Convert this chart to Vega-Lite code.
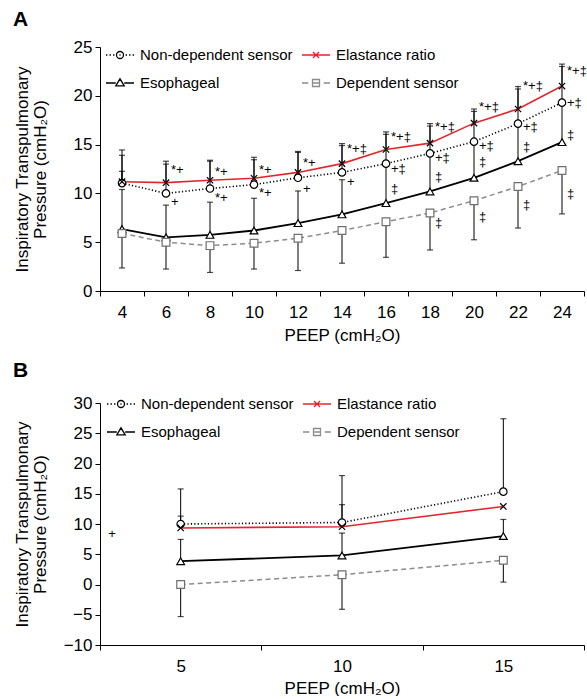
{
  "$schema": "https://vega.github.io/schema/vega-lite/v6.json",
  "padding": {"left": 13, "top": 9, "right": 0, "bottom": 0},
  "spacing": 17,
  "config": {
    "font": "Liberation Sans",
    "view": {"stroke": null},
    "axis": {"domainColor": "black", "tickColor": "black", "labelColor": "black", "titleColor": "black", "labelFontSize": 17, "titleFontSize": 17, "titleFontWeight": "normal", "grid": false, "tickSize": 5, "domainWidth": 1, "tickWidth": 1, "labelOverlap": false, "labelSeparation": 0, "labelBound": false},
    "title": {"anchor": "start", "frame": "bounds", "fontSize": 21, "fontWeight": "bold", "color": "black", "offset": 8}
  },
  "datasets": {
    "a": [
      {"peep": 4, "series": "Non-dependent sensor", "value": 11.05},
      {"peep": 6, "series": "Non-dependent sensor", "value": 10.0},
      {"peep": 8, "series": "Non-dependent sensor", "value": 10.5},
      {"peep": 10, "series": "Non-dependent sensor", "value": 10.9},
      {"peep": 12, "series": "Non-dependent sensor", "value": 11.6},
      {"peep": 14, "series": "Non-dependent sensor", "value": 12.15},
      {"peep": 16, "series": "Non-dependent sensor", "value": 13.05},
      {"peep": 18, "series": "Non-dependent sensor", "value": 14.1},
      {"peep": 20, "series": "Non-dependent sensor", "value": 15.3},
      {"peep": 22, "series": "Non-dependent sensor", "value": 17.15},
      {"peep": 24, "series": "Non-dependent sensor", "value": 19.3},
      {"peep": 4, "series": "Elastance ratio", "value": 11.2},
      {"peep": 6, "series": "Elastance ratio", "value": 11.1},
      {"peep": 8, "series": "Elastance ratio", "value": 11.35},
      {"peep": 10, "series": "Elastance ratio", "value": 11.55},
      {"peep": 12, "series": "Elastance ratio", "value": 12.15},
      {"peep": 14, "series": "Elastance ratio", "value": 13.05},
      {"peep": 16, "series": "Elastance ratio", "value": 14.5},
      {"peep": 18, "series": "Elastance ratio", "value": 15.15},
      {"peep": 20, "series": "Elastance ratio", "value": 17.2},
      {"peep": 22, "series": "Elastance ratio", "value": 18.65},
      {"peep": 24, "series": "Elastance ratio", "value": 21.0},
      {"peep": 4, "series": "Esophageal", "value": 6.35},
      {"peep": 6, "series": "Esophageal", "value": 5.5},
      {"peep": 8, "series": "Esophageal", "value": 5.75},
      {"peep": 10, "series": "Esophageal", "value": 6.2},
      {"peep": 12, "series": "Esophageal", "value": 6.95},
      {"peep": 14, "series": "Esophageal", "value": 7.85},
      {"peep": 16, "series": "Esophageal", "value": 9.0},
      {"peep": 18, "series": "Esophageal", "value": 10.2},
      {"peep": 20, "series": "Esophageal", "value": 11.6},
      {"peep": 22, "series": "Esophageal", "value": 13.3},
      {"peep": 24, "series": "Esophageal", "value": 15.25},
      {"peep": 4, "series": "Dependent sensor", "value": 5.9},
      {"peep": 6, "series": "Dependent sensor", "value": 5.0},
      {"peep": 8, "series": "Dependent sensor", "value": 4.65},
      {"peep": 10, "series": "Dependent sensor", "value": 4.9},
      {"peep": 12, "series": "Dependent sensor", "value": 5.4},
      {"peep": 14, "series": "Dependent sensor", "value": 6.2},
      {"peep": 16, "series": "Dependent sensor", "value": 7.1},
      {"peep": 18, "series": "Dependent sensor", "value": 8.0},
      {"peep": 20, "series": "Dependent sensor", "value": 9.25},
      {"peep": 22, "series": "Dependent sensor", "value": 10.7},
      {"peep": 24, "series": "Dependent sensor", "value": 12.35}
    ],
    "aerr": [
      {"peep": 4, "from": 11.2, "to": 14.45}, {"peep": 4, "from": 11.05, "to": 13.9}, {"peep": 4, "from": 11.2, "to": 12.26}, {"peep": 4, "from": 6.35, "to": 10.4}, {"peep": 4, "from": 5.9, "to": 2.36},
      {"peep": 6, "from": 11.1, "to": 13.3}, {"peep": 6, "from": 10.0, "to": 13.0}, {"peep": 6, "from": 5.5, "to": 8.8}, {"peep": 6, "from": 5.0, "to": 2.25},
      {"peep": 8, "from": 11.35, "to": 13.4}, {"peep": 8, "from": 10.5, "to": 13.3}, {"peep": 8, "from": 5.75, "to": 9.1}, {"peep": 8, "from": 4.65, "to": 1.9},
      {"peep": 10, "from": 11.55, "to": 13.7}, {"peep": 10, "from": 10.9, "to": 13.45}, {"peep": 10, "from": 6.2, "to": 9.5}, {"peep": 10, "from": 4.9, "to": 2.25},
      {"peep": 12, "from": 12.15, "to": 14.3}, {"peep": 12, "from": 11.6, "to": 14.2}, {"peep": 12, "from": 6.95, "to": 10.25}, {"peep": 12, "from": 5.4, "to": 2.1},
      {"peep": 14, "from": 13.05, "to": 15.1}, {"peep": 14, "from": 12.15, "to": 14.9}, {"peep": 14, "from": 7.85, "to": 11.4}, {"peep": 14, "from": 6.2, "to": 2.85},
      {"peep": 16, "from": 14.5, "to": 16.3}, {"peep": 16, "from": 13.05, "to": 16.05}, {"peep": 16, "from": 9.0, "to": 13.0}, {"peep": 16, "from": 7.1, "to": 3.45},
      {"peep": 18, "from": 15.15, "to": 17.15}, {"peep": 18, "from": 14.1, "to": 16.9}, {"peep": 18, "from": 10.2, "to": 14.0}, {"peep": 18, "from": 8.0, "to": 4.2},
      {"peep": 20, "from": 17.2, "to": 18.65}, {"peep": 20, "from": 15.3, "to": 18.4}, {"peep": 20, "from": 11.6, "to": 15.3}, {"peep": 20, "from": 9.25, "to": 5.25},
      {"peep": 22, "from": 18.65, "to": 20.95}, {"peep": 22, "from": 17.15, "to": 20.7}, {"peep": 22, "from": 13.3, "to": 17.1}, {"peep": 22, "from": 10.7, "to": 6.45},
      {"peep": 24, "from": 21.0, "to": 23.25}, {"peep": 24, "from": 19.3, "to": 23.0}, {"peep": 24, "from": 15.25, "to": 19.3}, {"peep": 24, "from": 12.35, "to": 7.9}
    ],
    "asig": [
      {"peep": 6, "y": 12.4, "text": "*+"}, {"peep": 6, "y": 9.15, "text": "+"},
      {"peep": 8, "y": 12.2, "text": "*+"}, {"peep": 8, "y": 9.5, "text": "*+"},
      {"peep": 10, "y": 12.4, "text": "*+"}, {"peep": 10, "y": 10.0, "text": "*+"},
      {"peep": 12, "y": 13.1, "text": "*+"}, {"peep": 12, "y": 10.5, "text": "+"},
      {"peep": 14, "y": 14.6, "text": "*+‡"}, {"peep": 14, "y": 11.2, "text": "+"},
      {"peep": 16, "y": 15.75, "text": "*+‡"}, {"peep": 16, "y": 12.55, "text": "+‡"}, {"peep": 16, "y": 10.45, "text": "‡"},
      {"peep": 18, "y": 16.8, "text": "*+‡"}, {"peep": 18, "y": 13.6, "text": "+‡"}, {"peep": 18, "y": 11.7, "text": "‡"}, {"peep": 18, "y": 7.0, "text": "‡"},
      {"peep": 20, "y": 18.9, "text": "*+‡"}, {"peep": 20, "y": 14.9, "text": "+‡"}, {"peep": 20, "y": 13.2, "text": "‡"}, {"peep": 20, "y": 7.6, "text": "‡"},
      {"peep": 22, "y": 21.0, "text": "*+‡"}, {"peep": 22, "y": 16.8, "text": "+‡"}, {"peep": 22, "y": 14.8, "text": "‡"}, {"peep": 22, "y": 8.85, "text": "‡"},
      {"peep": 24, "y": 22.5, "text": "*+‡"}, {"peep": 24, "y": 19.3, "text": "+‡"}, {"peep": 24, "y": 16.0, "text": "‡"}, {"peep": 24, "y": 9.9, "text": "‡"}
    ],
    "b": [
      {"peep": 5, "series": "Non-dependent sensor", "value": 10.0},
      {"peep": 10, "series": "Non-dependent sensor", "value": 10.25},
      {"peep": 15, "series": "Non-dependent sensor", "value": 15.35},
      {"peep": 5, "series": "Elastance ratio", "value": 9.35},
      {"peep": 10, "series": "Elastance ratio", "value": 9.55},
      {"peep": 15, "series": "Elastance ratio", "value": 12.9},
      {"peep": 5, "series": "Esophageal", "value": 3.85},
      {"peep": 10, "series": "Esophageal", "value": 4.8},
      {"peep": 15, "series": "Esophageal", "value": 8.0},
      {"peep": 5, "series": "Dependent sensor", "value": 0.0},
      {"peep": 10, "series": "Dependent sensor", "value": 1.6},
      {"peep": 15, "series": "Dependent sensor", "value": 4.0}
    ],
    "berr": [
      {"peep": 5, "from": 10.0, "to": 15.8}, {"peep": 5, "from": 9.35, "to": 11.3}, {"peep": 5, "from": 3.85, "to": 7.45}, {"peep": 5, "from": 0.0, "to": -5.3},
      {"peep": 10, "from": 10.25, "to": 18.0}, {"peep": 10, "from": 9.55, "to": 13.2}, {"peep": 10, "from": 4.8, "to": 8.5}, {"peep": 10, "from": 1.6, "to": -4.1},
      {"peep": 15, "from": 15.35, "to": 27.4}, {"peep": 15, "from": 8.0, "to": 10.75}, {"peep": 15, "from": 4.0, "to": 0.4}
    ],
    "bsig": [
      {"peep": 5, "y": 8.3, "text": "+"}
    ]
  },
  "vconcat": [
    {
      "title": "A",
      "width": 484,
      "height": 244,
      "encoding": {
        "x": {"field": "peep", "type": "ordinal", "scale": {"type": "band", "paddingInner": 0, "paddingOuter": 0}, "axis": {"title": "PEEP (cmH₂O)", "labelAngle": 0, "tickBand": "extent", "labelPadding": 8, "titlePadding": 7}}
      },
      "layer": [
        {
          "data": {"name": "aerr"},
          "mark": {"type": "rule", "color": "black", "strokeWidth": 1},
          "encoding": {
            "y": {"field": "from", "type": "quantitative", "scale": {"domain": [0, 25], "nice": false, "zero": false}, "axis": {"values": [0, 5, 10, 15, 20, 25], "labelOverlap": false, "title": ["Inspiratory Transpulmonary", "Pressure (cmH₂O)"], "titleLineHeight": 18, "minExtent": 37, "maxExtent": 37, "titlePadding": 14, "labelPadding": 3}},
            "y2": {"field": "to"}
          }
        },
        {
          "data": {"name": "aerr"},
          "mark": {"type": "tick", "color": "black", "size": 6, "thickness": 1.2},
          "encoding": {"y": {"field": "to", "type": "quantitative", "scale": {"domain": [0, 25], "nice": false, "zero": false}, "axis": {"values": [0, 5, 10, 15, 20, 25], "labelOverlap": false, "title": ["Inspiratory Transpulmonary", "Pressure (cmH₂O)"], "titleLineHeight": 18, "minExtent": 37, "maxExtent": 37, "titlePadding": 14, "labelPadding": 3}}}
        },
        {
          "data": {"name": "a"},
          "transform": [{"filter": {"field": "series", "equal": "Non-dependent sensor"}}],
          "mark": {"type": "line", "stroke": "black", "strokeWidth": 1.6, "strokeDash": [1.2, 2.2]},
          "encoding": {"y": {"field": "value", "type": "quantitative", "scale": {"domain": [0, 25], "nice": false, "zero": false}, "axis": {"values": [0, 5, 10, 15, 20, 25], "labelOverlap": false, "title": ["Inspiratory Transpulmonary", "Pressure (cmH₂O)"], "titleLineHeight": 18, "minExtent": 37, "maxExtent": 37, "titlePadding": 14, "labelPadding": 3}}}
        },
        {
          "data": {"name": "a"},
          "transform": [{"filter": {"field": "series", "equal": "Elastance ratio"}}],
          "mark": {"type": "line", "stroke": "#e3262d", "strokeWidth": 1.6},
          "encoding": {"y": {"field": "value", "type": "quantitative", "scale": {"domain": [0, 25], "nice": false, "zero": false}, "axis": {"values": [0, 5, 10, 15, 20, 25], "labelOverlap": false, "title": ["Inspiratory Transpulmonary", "Pressure (cmH₂O)"], "titleLineHeight": 18, "minExtent": 37, "maxExtent": 37, "titlePadding": 14, "labelPadding": 3}}}
        },
        {
          "data": {"name": "a"},
          "transform": [{"filter": {"field": "series", "equal": "Esophageal"}}],
          "mark": {"type": "line", "stroke": "black", "strokeWidth": 1.8},
          "encoding": {"y": {"field": "value", "type": "quantitative", "scale": {"domain": [0, 25], "nice": false, "zero": false}, "axis": {"values": [0, 5, 10, 15, 20, 25], "labelOverlap": false, "title": ["Inspiratory Transpulmonary", "Pressure (cmH₂O)"], "titleLineHeight": 18, "minExtent": 37, "maxExtent": 37, "titlePadding": 14, "labelPadding": 3}}}
        },
        {
          "data": {"name": "a"},
          "transform": [{"filter": {"field": "series", "equal": "Dependent sensor"}}],
          "mark": {"type": "line", "stroke": "#8c8c8c", "strokeWidth": 1.5, "strokeDash": [5, 3.5]},
          "encoding": {"y": {"field": "value", "type": "quantitative", "scale": {"domain": [0, 25], "nice": false, "zero": false}, "axis": {"values": [0, 5, 10, 15, 20, 25], "labelOverlap": false, "title": ["Inspiratory Transpulmonary", "Pressure (cmH₂O)"], "titleLineHeight": 18, "minExtent": 37, "maxExtent": 37, "titlePadding": 14, "labelPadding": 3}}}
        },
        {
          "data": {"name": "a"},
          "transform": [{"filter": {"field": "series", "equal": "Non-dependent sensor"}}],
          "mark": {"type": "point", "shape": "circle", "filled": true, "fill": "white", "stroke": "black", "size": 55, "strokeWidth": 1.2, "opacity": 1},
          "encoding": {"y": {"field": "value", "type": "quantitative", "scale": {"domain": [0, 25], "nice": false, "zero": false}, "axis": {"values": [0, 5, 10, 15, 20, 25], "labelOverlap": false, "title": ["Inspiratory Transpulmonary", "Pressure (cmH₂O)"], "titleLineHeight": 18, "minExtent": 37, "maxExtent": 37, "titlePadding": 14, "labelPadding": 3}}}
        },
        {
          "data": {"name": "a"},
          "transform": [{"filter": {"field": "series", "equal": "Elastance ratio"}}],
          "mark": {"type": "point", "shape": "M-1,-1L1,1M-1,1L1,-1", "filled": false, "stroke": "black", "size": 40, "strokeWidth": 1.2, "opacity": 1},
          "encoding": {"y": {"field": "value", "type": "quantitative", "scale": {"domain": [0, 25], "nice": false, "zero": false}, "axis": {"values": [0, 5, 10, 15, 20, 25], "labelOverlap": false, "title": ["Inspiratory Transpulmonary", "Pressure (cmH₂O)"], "titleLineHeight": 18, "minExtent": 37, "maxExtent": 37, "titlePadding": 14, "labelPadding": 3}}}
        },
        {
          "data": {"name": "a"},
          "transform": [{"filter": {"field": "series", "equal": "Esophageal"}}],
          "mark": {"type": "point", "shape": "triangle-up", "filled": true, "fill": "white", "stroke": "black", "size": 60, "strokeWidth": 1.2, "opacity": 1},
          "encoding": {"y": {"field": "value", "type": "quantitative", "scale": {"domain": [0, 25], "nice": false, "zero": false}, "axis": {"values": [0, 5, 10, 15, 20, 25], "labelOverlap": false, "title": ["Inspiratory Transpulmonary", "Pressure (cmH₂O)"], "titleLineHeight": 18, "minExtent": 37, "maxExtent": 37, "titlePadding": 14, "labelPadding": 3}}}
        },
        {
          "data": {"name": "a"},
          "transform": [{"filter": {"field": "series", "equal": "Dependent sensor"}}],
          "mark": {"type": "point", "shape": "square", "filled": true, "fill": "white", "stroke": "#6f6f6f", "size": 60, "strokeWidth": 1.2, "opacity": 1},
          "encoding": {"y": {"field": "value", "type": "quantitative", "scale": {"domain": [0, 25], "nice": false, "zero": false}, "axis": {"values": [0, 5, 10, 15, 20, 25], "labelOverlap": false, "title": ["Inspiratory Transpulmonary", "Pressure (cmH₂O)"], "titleLineHeight": 18, "minExtent": 37, "maxExtent": 37, "titlePadding": 14, "labelPadding": 3}}}
        },
        {
          "data": {"name": "a"},
          "transform": [{"filter": "datum.value < -100"}],
          "mark": {"type": "point", "filled": false, "size": 784, "strokeWidth": 1.3, "opacity": 1},
          "encoding": {
            "y": {"field": "value", "type": "quantitative", "scale": {"domain": [0, 25], "nice": false, "zero": false}, "axis": {"values": [0, 5, 10, 15, 20, 25], "labelOverlap": false, "title": ["Inspiratory Transpulmonary", "Pressure (cmH₂O)"], "titleLineHeight": 18, "minExtent": 37, "maxExtent": 37, "titlePadding": 14, "labelPadding": 3}},
            "color": {"field": "series", "type": "nominal", "scale": {"domain": ["Non-dependent sensor", "Esophageal", "Elastance ratio", "Dependent sensor"], "range": ["black", "black", "#e3262d", "#8c8c8c"]},
              "legend": {"orient": "none", "legendX": 5, "legendY": -7, "columns": 2, "title": null, "symbolSize": 784, "symbolStrokeWidth": 1.3, "labelFontSize": 15, "labelColor": "black", "labelOffset": 5, "columnPadding": 6, "rowPadding": 5, "padding": 0}},
            "shape": {"field": "series", "type": "nominal", "scale": {"domain": ["Non-dependent sensor", "Esophageal", "Elastance ratio", "Dependent sensor"], "range": [
                "M-1,0h0.1M-0.75,0h0.1M-0.5,0h0.1M0.4,0h0.1M0.65,0h0.1M0.9,0h0.1M-0.25,0a0.25,0.25 0 1,0 0.5,0a0.25,0.25 0 1,0 -0.5,0ZM-0.04,0h0.08",
                "M-1,0H-0.3M0.3,0H1M-0.3,0.2L0,-0.3L0.3,0.2Z",
                "M-1,0H1M-0.22,-0.22L0.22,0.22M-0.22,0.22L0.22,-0.22",
                "M-1,0H-0.55M0.55,0H1M-0.25,-0.25H0.25V0.25H-0.25ZM-0.25,0H0.25"]},
              "legend": {"orient": "none", "legendX": 5, "legendY": -7, "columns": 2, "title": null, "symbolSize": 784, "symbolStrokeWidth": 1.3, "labelFontSize": 15, "labelColor": "black", "labelOffset": 5, "columnPadding": 6, "rowPadding": 5, "padding": 0}}
          }
        },
        {
          "data": {"name": "asig"},
          "mark": {"type": "text", "align": "left", "baseline": "middle", "dx": 5, "fontSize": 13, "color": "black"},
          "encoding": {
            "y": {"field": "y", "type": "quantitative", "scale": {"domain": [0, 25], "nice": false, "zero": false}, "axis": {"values": [0, 5, 10, 15, 20, 25], "labelOverlap": false, "title": ["Inspiratory Transpulmonary", "Pressure (cmH₂O)"], "titleLineHeight": 18, "minExtent": 37, "maxExtent": 37, "titlePadding": 14, "labelPadding": 3}},
            "text": {"field": "text"}
          }
        }
      ]
    },
    {
      "title": "B",
      "width": 484,
      "height": 242,
      "encoding": {
        "x": {"field": "peep", "type": "ordinal", "scale": {"type": "band", "paddingInner": 0, "paddingOuter": 0}, "axis": {"title": "PEEP (cmH₂O)", "labelAngle": 0, "tickBand": "extent", "labelPadding": 8, "titlePadding": 6}},
        "y": {"field": "value", "type": "quantitative", "scale": {"domain": [-10, 30], "nice": false, "zero": false}, "axis": {"values": [-10, -5, 0, 5, 10, 15, 20, 25, 30], "tickCount": 9, "labelOverlap": false, "title": ["Inspiratory Transpulmonary", "Pressure (cmH₂O)"], "titleLineHeight": 18, "minExtent": 37, "maxExtent": 37, "titlePadding": 14, "labelPadding": 3}}
      },
      "layer": [
        {
          "data": {"name": "berr"},
          "mark": {"type": "rule", "color": "black", "strokeWidth": 1},
          "encoding": {
            "y": {"field": "from", "type": "quantitative", "scale": {"domain": [-10, 30], "nice": false, "zero": false}, "axis": {"values": [-10, -5, 0, 5, 10, 15, 20, 25, 30], "tickCount": 9, "labelOverlap": false, "title": ["Inspiratory Transpulmonary", "Pressure (cmH₂O)"], "titleLineHeight": 18, "minExtent": 37, "maxExtent": 37, "titlePadding": 14, "labelPadding": 3}},
            "y2": {"field": "to"}
          }
        },
        {
          "data": {"name": "berr"},
          "mark": {"type": "tick", "color": "black", "size": 6, "thickness": 1.2},
          "encoding": {"y": {"field": "to", "type": "quantitative", "scale": {"domain": [-10, 30], "nice": false, "zero": false}, "axis": {"values": [-10, -5, 0, 5, 10, 15, 20, 25, 30], "tickCount": 9, "labelOverlap": false, "title": ["Inspiratory Transpulmonary", "Pressure (cmH₂O)"], "titleLineHeight": 18, "minExtent": 37, "maxExtent": 37, "titlePadding": 14, "labelPadding": 3}}}
        },
        {
          "data": {"name": "b"},
          "transform": [{"filter": {"field": "series", "equal": "Non-dependent sensor"}}],
          "mark": {"type": "line", "stroke": "black", "strokeWidth": 1.6, "strokeDash": [1.2, 2.2]}
        },
        {
          "data": {"name": "b"},
          "transform": [{"filter": {"field": "series", "equal": "Elastance ratio"}}],
          "mark": {"type": "line", "stroke": "#e3262d", "strokeWidth": 1.6}
        },
        {
          "data": {"name": "b"},
          "transform": [{"filter": {"field": "series", "equal": "Esophageal"}}],
          "mark": {"type": "line", "stroke": "black", "strokeWidth": 1.8}
        },
        {
          "data": {"name": "b"},
          "transform": [{"filter": {"field": "series", "equal": "Dependent sensor"}}],
          "mark": {"type": "line", "stroke": "#8c8c8c", "strokeWidth": 1.5, "strokeDash": [5, 3.5]}
        },
        {
          "data": {"name": "b"},
          "transform": [{"filter": {"field": "series", "equal": "Non-dependent sensor"}}],
          "mark": {"type": "point", "shape": "circle", "filled": true, "fill": "white", "stroke": "black", "size": 55, "strokeWidth": 1.2, "opacity": 1}
        },
        {
          "data": {"name": "b"},
          "transform": [{"filter": {"field": "series", "equal": "Elastance ratio"}}],
          "mark": {"type": "point", "shape": "M-1,-1L1,1M-1,1L1,-1", "filled": false, "stroke": "black", "size": 40, "strokeWidth": 1.2, "opacity": 1}
        },
        {
          "data": {"name": "b"},
          "transform": [{"filter": {"field": "series", "equal": "Esophageal"}}],
          "mark": {"type": "point", "shape": "triangle-up", "filled": true, "fill": "white", "stroke": "black", "size": 60, "strokeWidth": 1.2, "opacity": 1}
        },
        {
          "data": {"name": "b"},
          "transform": [{"filter": {"field": "series", "equal": "Dependent sensor"}}],
          "mark": {"type": "point", "shape": "square", "filled": true, "fill": "white", "stroke": "#6f6f6f", "size": 60, "strokeWidth": 1.2, "opacity": 1}
        },
        {
          "data": {"name": "b"},
          "transform": [{"filter": "datum.value < -100"}],
          "mark": {"type": "point", "filled": false, "size": 784, "strokeWidth": 1.3, "opacity": 1},
          "encoding": {
            "color": {"field": "series", "type": "nominal", "scale": {"domain": ["Non-dependent sensor", "Esophageal", "Elastance ratio", "Dependent sensor"], "range": ["black", "black", "#e3262d", "#8c8c8c"]},
              "legend": {"orient": "none", "legendX": 6, "legendY": -14, "columns": 2, "title": null, "symbolSize": 784, "symbolStrokeWidth": 1.3, "labelFontSize": 15, "labelColor": "black", "labelOffset": 5, "columnPadding": 6, "rowPadding": 5, "padding": 0}},
            "shape": {"field": "series", "type": "nominal", "scale": {"domain": ["Non-dependent sensor", "Esophageal", "Elastance ratio", "Dependent sensor"], "range": [
                "M-1,0h0.1M-0.75,0h0.1M-0.5,0h0.1M0.4,0h0.1M0.65,0h0.1M0.9,0h0.1M-0.25,0a0.25,0.25 0 1,0 0.5,0a0.25,0.25 0 1,0 -0.5,0ZM-0.04,0h0.08",
                "M-1,0H-0.3M0.3,0H1M-0.3,0.2L0,-0.3L0.3,0.2Z",
                "M-1,0H1M-0.22,-0.22L0.22,0.22M-0.22,0.22L0.22,-0.22",
                "M-1,0H-0.55M0.55,0H1M-0.25,-0.25H0.25V0.25H-0.25ZM-0.25,0H0.25"]},
              "legend": {"orient": "none", "legendX": 6, "legendY": -14, "columns": 2, "title": null, "symbolSize": 784, "symbolStrokeWidth": 1.3, "labelFontSize": 15, "labelColor": "black", "labelOffset": 5, "columnPadding": 6, "rowPadding": 5, "padding": 0}}
          }
        },
        {
          "data": {"name": "bsig"},
          "mark": {"type": "text", "align": "center", "baseline": "middle", "fontSize": 13, "color": "black"},
          "encoding": {
            "x": {"field": "peep", "type": "ordinal", "bandPosition": 0.075},
            "y": {"field": "y", "type": "quantitative", "scale": {"domain": [-10, 30], "nice": false, "zero": false}, "axis": {"values": [-10, -5, 0, 5, 10, 15, 20, 25, 30], "tickCount": 9, "labelOverlap": false, "title": ["Inspiratory Transpulmonary", "Pressure (cmH₂O)"], "titleLineHeight": 18, "minExtent": 37, "maxExtent": 37, "titlePadding": 14, "labelPadding": 3}},
            "text": {"field": "text"}
          }
        }
      ]
    }
  ],
  "resolve": {"scale": {"color": "independent", "shape": "independent"}}
}
